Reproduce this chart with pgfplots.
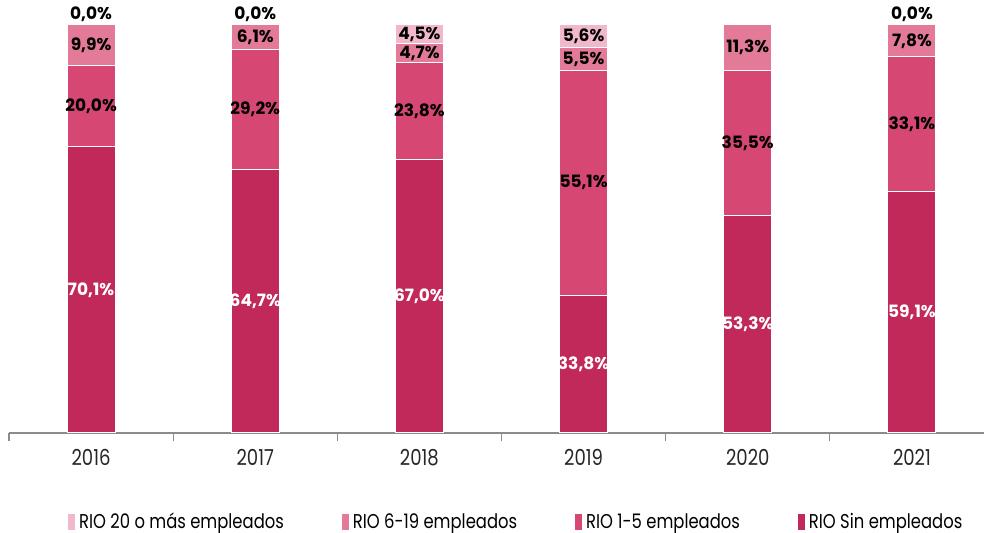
\documentclass[border=0pt]{standalone}
\usepackage{fontspec}
\setmainfont{Poppins}
\newfontfamily\condfont[FakeStretch=0.82]{Poppins}
\usepackage{pgfplots}
\usepackage{pgfplotstable}
\pgfplotsset{compat=1.18}

\definecolor{cSin}{HTML}{C0295A}
\definecolor{cUno}{HTML}{D64873}
\definecolor{cSeis}{HTML}{E27A98}
\definecolor{cVeinte}{HTML}{F0B8CA}

% shares per year (%)
\pgfplotstableread{
x sin uno seis veinte
0 70.1 20.0 9.9 0.0
1 64.7 29.2 6.1 0.0
2 67.0 23.8 4.7 4.5
3 33.8 55.1 5.5 5.6
4 53.3 35.5 11.3 0.0
5 59.1 33.1 7.8 0.0
}\datos

% label positions: middle of each segment
\pgfplotstableread{
x y v
0 35.05 70.1
1 32.35 64.7
2 33.5 67.0
3 16.9 33.8
4 26.65 53.3
5 29.55 59.1
}\labsin
\pgfplotstableread{
x y v
0 80.1 20.0
1 79.3 29.2
2 78.9 23.8
3 61.35 55.1
4 71.05 35.5
5 75.65 33.1
0 95.05 9.9
1 96.95 6.1
2 93.15 4.7
3 91.65 5.5
4 94.45 11.3
5 96.1 7.8
2 97.75 4.5
3 97.2 5.6
}\labmid
\pgfplotstableread{
x y v
0 100 0.0
1 100 0.0
5 100 0.0
}\labtop

\pgfplotsset{
  base/.style={
    scale only axis, width=492.5pt, height=216.5pt,
    xmin=-0.5, xmax=5.5, ymin=0, ymax=106.13,
  },
}

\begin{document}
\begin{tikzpicture}
\begin{axis}[base, name=ax,
  ybar stacked, bar width=24pt,
  axis x line*=bottom, axis y line=none,
  axis line style={black!45, line width=0.6pt},
  xtick={0,...,5}, xticklabels={2016,2017,2018,2019,2020,2021},
  major tick length=0pt,
  minor xtick={-0.5,0.5,...,5.5}, minor tick length=4pt,
  xtick align=outside,
  minor tick style={black!45, line width=0.6pt},
  xticklabel style={font=\condfont\fontsize{11}{13}\selectfont, text=black!85, yshift=-4.5pt},
  ytick=\empty,
  reverse legend,
  legend style={at={(0.516,-0.206)}, anchor=center, draw=none,
    legend columns=4, font=\condfont\fontsize{10}{12}\selectfont,
    /tikz/every even column/.append style={column sep=27pt}},
  legend image code/.code={\fill[#1, draw=none] (0pt,-4pt) rectangle (3.5pt,4pt);},
]
\addplot[fill=cSin, draw=white, line width=0.5pt] table[x=x, y=sin] {\datos};
\addlegendentry{RIO Sin empleados}
\addplot[fill=cUno, draw=white, line width=0.5pt] table[x=x, y=uno] {\datos};
\addlegendentry{RIO 1-5 empleados}
\addplot[fill=cSeis, draw=white, line width=0.5pt] table[x=x, y=seis] {\datos};
\addlegendentry{RIO 6-19 empleados}
\addplot[fill=cVeinte, draw=white, line width=0.5pt] table[x=x, y=veinte] {\datos};
\addlegendentry{RIO 20 o más empleados}
\end{axis}

\begin{axis}[base, hide axis, clip=false,
  nodes near coords={\pgfmathprintnumber{\pgfplotspointmeta}\%},
  /pgf/number format/.cd, use comma, fixed, fixed zerofill, precision=1,
  assume math mode=true,
  /pgfplots/.cd,
  nodes near coords style={font=\bfseries\fontsize{8.5}{10}\selectfont, inner sep=1pt},
]
\addplot[draw=none, mark=none, point meta=\thisrow{v},
  nodes near coords style={anchor=center, text=white}] table[x=x, y=y] {\labsin};
\addplot[draw=none, mark=none, point meta=\thisrow{v},
  nodes near coords style={anchor=center, text=black}] table[x=x, y=y] {\labmid};
\addplot[draw=none, mark=none, point meta=\thisrow{v},
  nodes near coords style={anchor=south, text=black, yshift=0.5pt}] table[x=x, y=y] {\labtop};
\end{axis}
\pgfresetboundingbox
\path (ax.south west) ++(-4.5pt,-50pt) rectangle ++(492pt,266.5pt);
\end{tikzpicture}
\end{document}
